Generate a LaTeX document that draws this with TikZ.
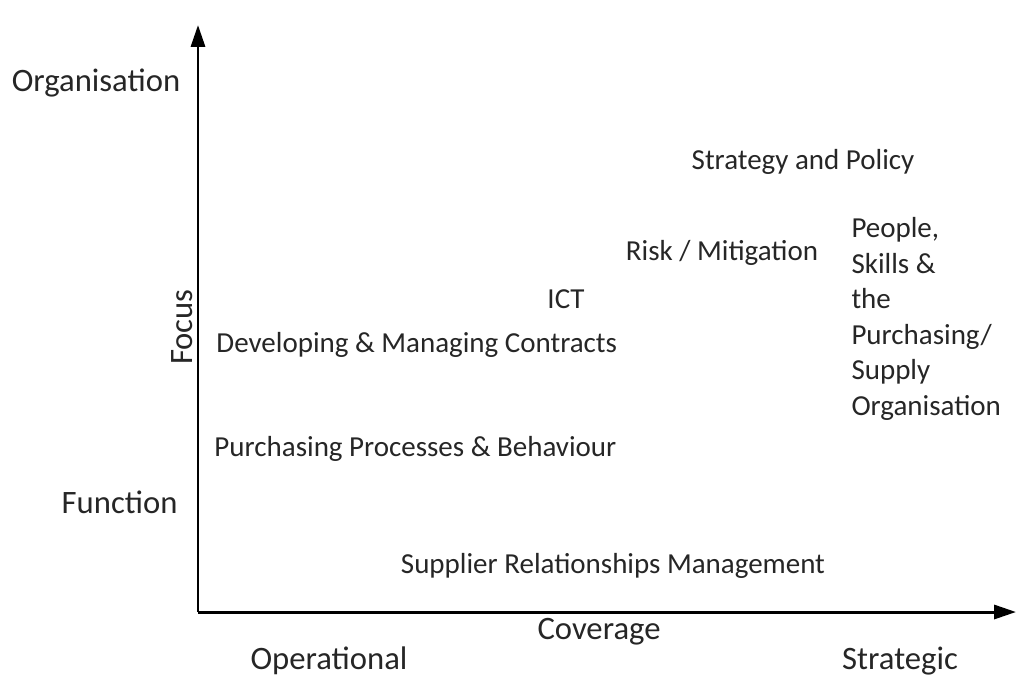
\documentclass[tikz,border=0pt]{standalone}
\usepackage{fontspec}
\setmainfont{Carlito}
\usetikzlibrary{arrows.meta}

\begin{document}
\begin{tikzpicture}[x=0.02cm, y=-0.02cm, >={Triangle[length=12.5pt, width=8pt]},
                    line width=1.7pt, font=\fontsize{16.5}{20.2}\selectfont]
\tikzstyle{label}=[inner sep=0pt, text=black!85]
\tikzstyle{axislabel}=[label, font=\fontsize{18.6}{22}\selectfont]
  \useasboundingbox (0,0) rectangle (1016,677);
  \coordinate (O) at (198,612);
  \coordinate (Ytop) at (198,25);
  \coordinate (Xend) at (1016,612);
  \draw[->] (O) -- (Ytop);
  \draw[->] (O) -- (Xend);
  % axis labels
  \node[axislabel] (org) at (96,83) {Organisation};
  \node[axislabel, anchor=east] (func) at (179,502) {Function};
  \node[axislabel, rotate=90] (focus) at (182,327) {Focus};
  \node[axislabel] (cov) at (599,632) {Coverage};
  \node[axislabel] (oper) at (329,661) {Operational};
  \node[axislabel] (strat) at (900,661) {Strategic};
  % areas
  \node[label] (policy) at (803,162) {Strategy and Policy};
  \node[label] (risk) at (722,253) {Risk / Mitigation};
  \node[label] (ict) at (566,299) {ICT};
  \node[label, anchor=west] (contracts) at (215,345) {Developing \& Managing Contracts};
  \node[label, anchor=west] (process) at (213,449) {Purchasing Processes \& Behaviour};
  \node[label] (supplier) at (613,566) {Supplier Relationships Management};
  \node[label, anchor=north west, align=left]
    (people) at (850,216) {People,\\Skills \&\\the\\Purchasing/\\Supply\\Organisation};
\end{tikzpicture}
\end{document}
